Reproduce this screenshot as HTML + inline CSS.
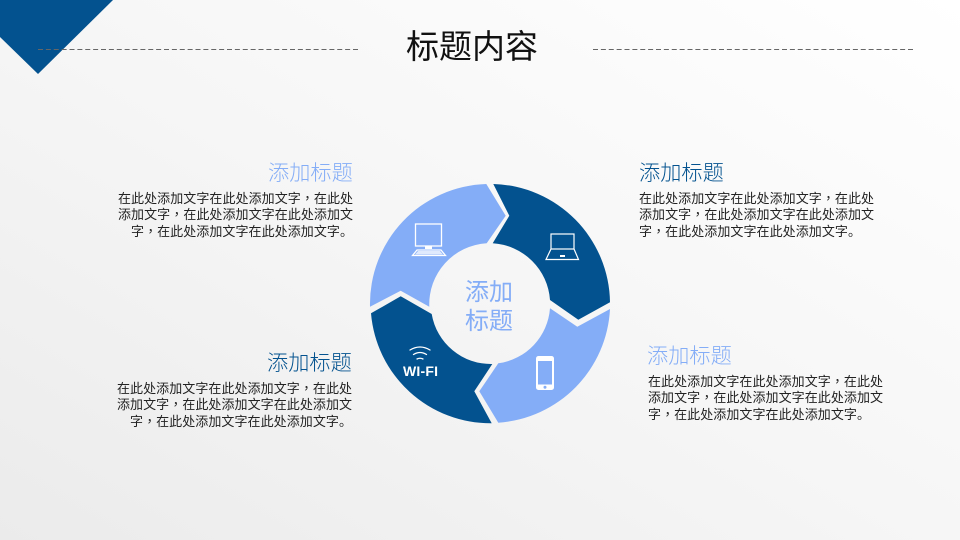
<!DOCTYPE html>
<html><head><meta charset="utf-8">
<style>
html,body{margin:0;padding:0}
body{width:960px;height:540px;position:relative;overflow:hidden;background:linear-gradient(to bottom left,#ffffff 0%,#f6f6f6 50%,#ebebeb 100%);font-family:"Liberation Sans","Noto Sans CJK SC",sans-serif}
.t{position:absolute;white-space:nowrap;line-height:1}
.b{font-size:13px;color:#222;text-align:left;letter-spacing:.06px}
.b i{font-style:normal;font-family:"Noto Sans CJK TC",sans-serif}
.h{font-size:21.200px;font-weight:300}
</style></head><body>
<svg width="960" height="540" style="position:absolute;left:0;top:0">
<polygon points="0,0 113,0 38,74 0,37" fill="#03528f"/>
<line x1="38" y1="49.500" x2="358" y2="49.500" stroke="#666" stroke-width="1" stroke-dasharray="5 2.875"/>
<line x1="593" y1="49.500" x2="913" y2="49.500" stroke="#666" stroke-width="1" stroke-dasharray="5 2.875"/>
<path d="M486.3,184 L505.7,215.7 L486.7,243.3 A61,61 0 0 0 429.3,306.7 L400.7,290.7 L370,306.7 A120,120 0 0 1 486.3,184Z" fill="#84adf7"/>
<path d="M493.3,184 L509.3,215.7 L492.7,243.3 A61,61 0 0 1 550,300 L578.3,319.7 L610,302.3 A120,120 0 0 0 493.3,184Z" fill="#03528f"/>
<path d="M610,309 L577.3,326.7 L550,308.3 A60,60 0 0 1 498.3,363.3 L479.3,391.3 L498.3,422.7 A120,120 0 0 0 610,309Z" fill="#84adf7"/>
<path d="M491.7,423.3 L474.3,391.3 L492.3,364 A60,60 0 0 1 431.7,314 L400.7,296.3 L371,313.3 A120,120 0 0 0 491.7,423.3Z" fill="#03528f"/>
<!-- desktop -->
<g fill="none" stroke="#fff" stroke-width="1.3">
<rect x="415.500" y="224" width="26" height="22"/>
<rect x="425" y="246" width="7" height="3" fill="#fff" stroke="none"/>
<path d="M417,250 H441 L445.500,255.500 H412.500Z"/>
</g>
<path d="M418,251 H440 L443,254.500 H415Z" fill="#fff" opacity=".75"/>
<!-- laptop -->
<g fill="none" stroke="#fff" stroke-width="1.200">
<rect x="551" y="234" width="23" height="15"/>
<path d="M551,249 L546,259.500 H578.500 L574,249"/>
</g>
<rect x="560" y="255" width="5" height="2" fill="#fff"/>
<!-- wifi -->
<g fill="none" stroke="#fff" stroke-width="1.300" stroke-linecap="round">
<path d="M410,350 Q420,344 430,350"/>
<path d="M413.500,354.500 Q420,350.500 426.500,354.500"/>
<path d="M417,359 Q420,357.500 423,359"/>
</g>
<!-- phone -->
<rect x="536" y="356" width="18" height="34" rx="2.500" fill="#fff"/>
<rect x="538" y="361" width="14" height="23.500" fill="#84adf7"/>
<circle cx="545" cy="387.300" r="1.500" fill="#84adf7"/>
</svg>
<div class="t" style="left:406px;top:30px;font-size:33px;color:#111">标题内容</div>
<div class="t" style="left:465px;top:281px;font-size:24px;color:#84adf7">添加</div>
<div class="t" style="left:465px;top:310px;font-size:24px;color:#84adf7">标题</div>
<div class="t" style="left:403px;top:364px;font-size:14px;font-weight:bold;color:#fff;letter-spacing:.2px">WI-FI</div>

<div class="t h" style="left:268px;top:163px;color:#84adf7">添加标题</div>
<div class="t b" style="left:118px;top:191px">在此处添加文字在此处添加文字<i>，</i>在此处</div>
<div class="t b" style="left:118px;top:207px">添加文字<i>，</i>在此处添加文字在此处添加文</div>
<div class="t b" style="left:131px;top:224px">字<i>，</i>在此处添加文字在此处添加文字。</div>

<div class="t h" style="left:639px;top:163px;color:#03528f">添加标题</div>
<div class="t b" style="left:639px;top:191px">在此处添加文字在此处添加文字<i>，</i>在此处</div>
<div class="t b" style="left:639px;top:207px">添加文字<i>，</i>在此处添加文字在此处添加文</div>
<div class="t b" style="left:639px;top:224px">字<i>，</i>在此处添加文字在此处添加文字。</div>

<div class="t h" style="left:267px;top:353px;color:#03528f">添加标题</div>
<div class="t b" style="left:117px;top:381px">在此处添加文字在此处添加文字<i>，</i>在此处</div>
<div class="t b" style="left:117px;top:397px">添加文字<i>，</i>在此处添加文字在此处添加文</div>
<div class="t b" style="left:130px;top:414px">字<i>，</i>在此处添加文字在此处添加文字。</div>

<div class="t h" style="left:647px;top:346px;color:#84adf7">添加标题</div>
<div class="t b" style="left:648px;top:374px">在此处添加文字在此处添加文字<i>，</i>在此处</div>
<div class="t b" style="left:648px;top:390px">添加文字<i>，</i>在此处添加文字在此处添加文</div>
<div class="t b" style="left:648px;top:407px">字<i>，</i>在此处添加文字在此处添加文字。</div>
</body></html>
